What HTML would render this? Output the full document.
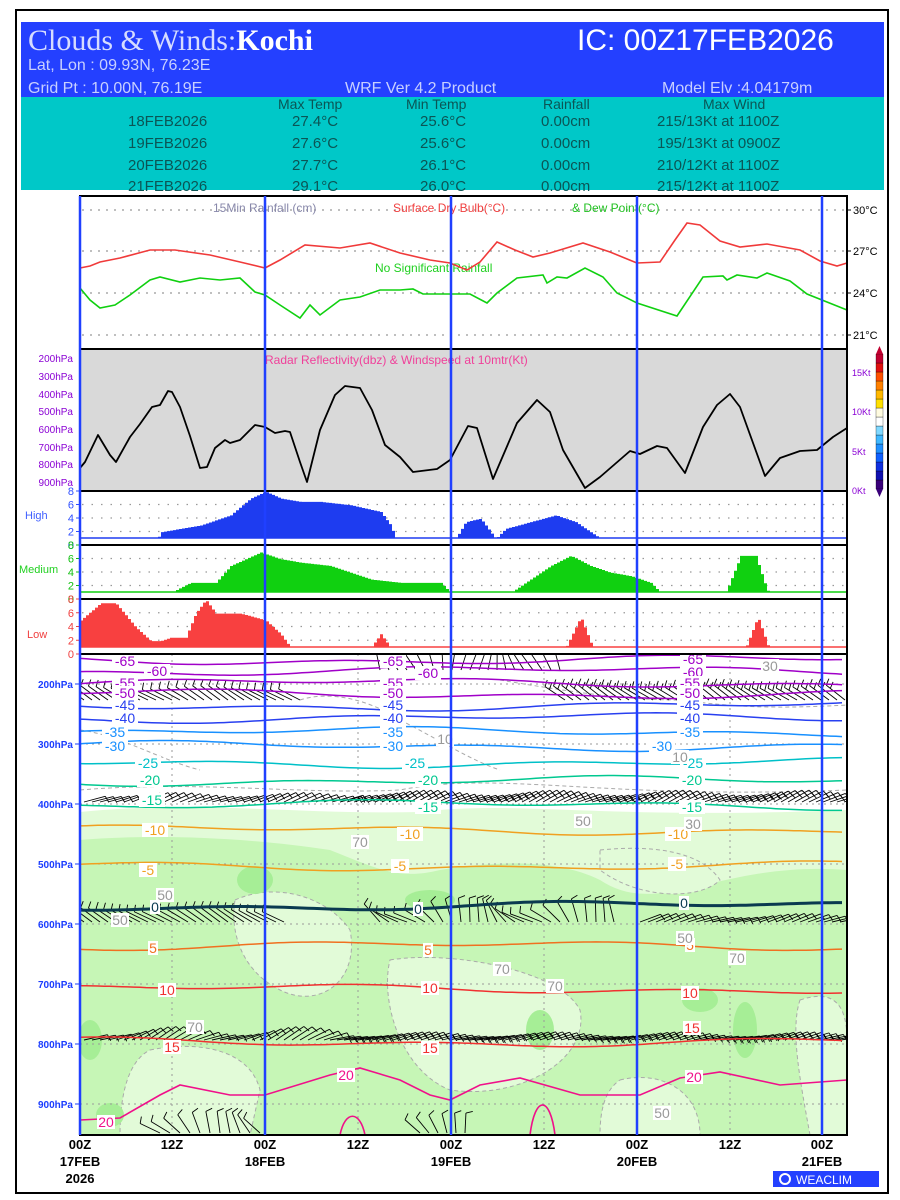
<!DOCTYPE html>
<html><head><meta charset="utf-8"><style>
body{margin:0;background:#fff;width:900px;height:1200px;overflow:hidden}
svg{display:block}
text{font-family:"Liberation Sans",sans-serif}
.pl{font-size:10px;fill:#1a3cff;text-anchor:end;font-weight:bold}
.rl{font-size:10px;fill:#8a00d4;text-anchor:end}
.tb{font-size:15px;fill:#0b5555}
.cl{font-size:14px;text-anchor:middle}
</style></head><body>
<svg id="s" width="900" height="1200" xmlns="http://www.w3.org/2000/svg">
<defs><clipPath id="mc"><rect x="80" y="654" width="767" height="481"/></clipPath></defs>
<rect x="16" y="10" width="872" height="1183" fill="#fff" stroke="#000" stroke-width="2"/>
<rect x="21" y="22" width="863" height="76" fill="#2440ff"/>
<rect x="21" y="97" width="863" height="93" fill="#00c8c8"/>
<text x="28" y="50" font-family="Liberation Serif" font-size="30" fill="#d6dcff" style="font-family:'Liberation Serif',serif">Clouds &amp; Winds:<tspan fill="#fff" font-weight="bold">Kochi</tspan></text>
<text x="577" y="50" font-size="30" fill="#fff">IC: 00Z17FEB2026</text>
<text x="28" y="70" font-size="16" fill="#c8d0ff">Lat, Lon : 09.93N, 76.23E</text>
<text x="28" y="93" font-size="16" fill="#c8d0ff">Grid Pt  : 10.00N, 76.19E</text>
<text x="345" y="93" font-size="16" fill="#c8d0ff">WRF Ver 4.2 Product</text>
<text x="662" y="93" font-size="16" fill="#c8d0ff">Model Elv :4.04179m</text>
<g class="tb" style="font-size:14px">
<text x="278" y="109">Max Temp</text><text x="406" y="109">Min Temp</text><text x="543" y="109">Rainfall</text><text x="703" y="109">Max Wind</text>
</g>
<g class="tb">
<text x="128" y="126">18FEB2026</text><text x="292" y="126">27.4°C</text><text x="420" y="126">25.6°C</text><text x="541" y="126">0.00cm</text><text x="657" y="126">215/13Kt at 1100Z</text>
<text x="128" y="148">19FEB2026</text><text x="292" y="148">27.6°C</text><text x="420" y="148">25.6°C</text><text x="541" y="148">0.00cm</text><text x="657" y="148">195/13Kt at 0900Z</text>
<text x="128" y="170">20FEB2026</text><text x="292" y="170">27.7°C</text><text x="420" y="170">26.1°C</text><text x="541" y="170">0.00cm</text><text x="657" y="170">210/12Kt at 1100Z</text>
<text x="128" y="191">21FEB2026</text><text x="292" y="191">29.1°C</text><text x="420" y="191">26.0°C</text><text x="541" y="191">0.00cm</text><text x="657" y="191">215/12Kt at 1100Z</text>
</g>
<g stroke="#999" stroke-dasharray="2,6" stroke-width="1.3">
<line x1="82" y1="210" x2="845" y2="210"/><line x1="82" y1="251" x2="845" y2="251"/><line x1="82" y1="293" x2="845" y2="293"/><line x1="82" y1="335" x2="845" y2="335"/>
</g>
<text x="213" y="212" font-size="12" fill="#8888aa">15Min Rainfall (cm)</text>
<text x="393" y="212" font-size="12" fill="#f04040">Surface Dry Bulb(°C)</text>
<text x="572" y="212" font-size="12" fill="#20c020">&amp; Dew Point(°C)</text>
<text x="375" y="272" font-size="12" fill="#20d020">No Significant Rainfall</text>
<g font-size="11" fill="#000"><text x="853" y="214">30°C</text><text x="853" y="255">27°C</text><text x="853" y="297">24°C</text><text x="853" y="339">21°C</text></g>
<g stroke="#000"><line x1="847" y1="210" x2="851" y2="210"/><line x1="847" y1="251" x2="851" y2="251"/><line x1="847" y1="293" x2="851" y2="293"/><line x1="847" y1="335" x2="851" y2="335"/></g>
<polyline fill="none" stroke="#f03a3a" stroke-width="1.6" points="80,268 90,266 100,262 120,258 150,250 175,250 210,255 240,262 265,268 280,260 305,245 340,248 370,243 400,253 430,260 450,263 467,270 480,262 497,242 515,250 533,257 550,253 583,243 610,252 637,263 660,262 675,240 687,223 700,225 720,241 740,247 767,244 800,250 820,261 837,266 847,263"/>
<polyline fill="none" stroke="#10d010" stroke-width="1.6" points="80,288 90,300 100,308 115,305 130,295 150,280 160,277 180,282 200,278 220,280 240,278 255,292 265,295 280,305 300,318 310,305 320,315 340,300 360,297 380,290 400,290 413,289 423,294 450,294 470,294 487,303 497,293 517,278 543,275 547,283 557,277 567,278 585,268 603,277 617,293 637,303 677,316 703,277 723,276 727,280 737,275 757,278 767,273 790,281 807,294 847,310"/>
<rect x="80" y="349" width="767" height="142" fill="#d9d9d9"/>
<text x="265" y="364" font-size="12" fill="#f0409a">Radar Reflectivity(dbz) &amp; Windspeed at 10mtr(Kt)</text>
<polyline fill="none" stroke="#000" stroke-width="1.8" stroke-linejoin="round" points="80,468 85,462 98,435 110,455 116,462 130,437 140,424 152,407 160,405 168,391 172,392 180,407 190,436 200,468 207,467 215,448 225,440 230,443 240,440 255,425 265,427 275,433 285,431 290,432 300,462 307,482 320,430 335,395 345,386 360,388 372,410 385,445 400,457 413,472 437,469 450,460 468,426 477,428 493,479 517,423 537,400 550,412 563,450 585,488 600,477 630,451 640,454 657,446 667,448 685,473 703,427 717,405 730,394 740,407 765,476 780,458 800,451 817,450 833,437 847,428"/>
<g class="rl"><text x="73" y="362">200hPa</text><text x="73" y="380">300hPa</text><text x="73" y="398">400hPa</text><text x="73" y="415">500hPa</text><text x="73" y="433">600hPa</text><text x="73" y="451">700hPa</text><text x="73" y="468">800hPa</text><text x="73" y="486">900hPa</text></g>
<g font-size="9" fill="#8a00d4"><text x="852" y="376">15Kt</text><text x="852" y="415">10Kt</text><text x="852" y="455">5Kt</text><text x="852" y="494">0Kt</text></g>
<g id="cbar"></g>
<g font-size="11"><text x="25" y="519" fill="#4060ff">High</text><text x="19" y="573" fill="#20d020">Medium</text><text x="27" y="638" fill="#f04040">Low</text></g>
<g id="clouds"></g>
<g id="main" clip-path="url(#mc)"></g>
<g class="pl"><text x="73" y="688">200hPa</text><text x="73" y="748">300hPa</text><text x="73" y="808">400hPa</text><text x="73" y="868">500hPa</text><text x="73" y="928">600hPa</text><text x="73" y="988">700hPa</text><text x="73" y="1048">800hPa</text><text x="73" y="1108">900hPa</text></g>
<g id="labels"></g>
<g id="frames"></g>
<g font-size="13" fill="#000" text-anchor="middle" font-weight="bold">
<text x="80" y="1149">00Z</text><text x="80" y="1166">17FEB</text><text x="80" y="1183">2026</text>
<text x="172" y="1149">12Z</text>
<text x="265" y="1149">00Z</text><text x="265" y="1166">18FEB</text>
<text x="358" y="1149">12Z</text>
<text x="451" y="1149">00Z</text><text x="451" y="1166">19FEB</text>
<text x="544" y="1149">12Z</text>
<text x="637" y="1149">00Z</text><text x="637" y="1166">20FEB</text>
<text x="730" y="1149">12Z</text>
<text x="822" y="1149">00Z</text><text x="822" y="1166">21FEB</text>
</g>
<rect x="773" y="1171" width="106" height="16" fill="#2440ff"/>
<circle cx="785" cy="1179" r="5" fill="none" stroke="#fff" stroke-width="2"/>
<text x="796" y="1184" font-size="12" fill="#fff">WEACLIM</text>
</svg>
<script>
const NS="http://www.w3.org/2000/svg";
function el(p,t,a){const e=document.createElementNS(NS,t);for(const k in a)e.setAttribute(k,a[k]);p.appendChild(e);return e;}
const cb=document.getElementById('cbar');
const cols=["#3a007a","#1010b0","#1030e0","#1060ff","#2090ff","#40b8ff","#80d8ff","#fff","#fffbe0","#ffe000","#ffb800","#ff8000","#ff5000","#e01010","#c00030"];
for(let i=0;i<cols.length;i++)el(cb,'rect',{x:876,y:489-(i+1)*9,width:7,height:9,fill:cols[i],stroke:"#000","stroke-width":0.3});
el(cb,'polygon',{points:"876,354 883,354 879.5,346",fill:"#c00030"});
el(cb,'polygon',{points:"876,489 883,489 879.5,497",fill:"#3a007a"});
const cg=document.getElementById('clouds');
function interp(pts,x){for(let i=0;i<pts.length-1;i++){if(x>=pts[i][0]&&x<=pts[i+1][0]){const t=(x-pts[i][0])/(pts[i+1][0]-pts[i][0]||1);return pts[i][1]+t*(pts[i+1][1]-pts[i][1]);}}return 0;}
function panel(top,bot,col,tickcol,data){
 const sc=(bot-top)/8;
 for(let v=2;v<=6;v+=2)el(cg,'line',{x1:82,y1:bot-v*sc,x2:845,y2:bot-v*sc,stroke:"#999","stroke-dasharray":"1.5,8","stroke-width":1.2});
 const base=bot-7;
 let d="M80,"+base;
 for(let x=80;x<847;x+=3){const v=interp(data,x);const y=v>0.05?Math.min(base,bot-v*sc-6):base;d+=" L"+x+","+y.toFixed(1)+" L"+(x+3)+","+y.toFixed(1);}
 d+=" L847,"+base+" Z";
 el(cg,'path',{d:d,fill:col});
 el(cg,'line',{x1:80,y1:base,x2:847,y2:base,stroke:col,"stroke-width":1.5});
 for(let v=0;v<=8;v+=2){const t=el(cg,'text',{x:74,y:bot-v*sc+4,"font-size":11,fill:tickcol,"text-anchor":"end"});t.textContent=v;el(cg,'line',{x1:76,y1:bot-v*sc,x2:80,y2:bot-v*sc,stroke:tickcol});}
 el(cg,'line',{x1:80,y1:top,x2:847,y2:top,stroke:"#000","stroke-width":2});
}
panel(491,545,"#1e3cf0","#3050ff",[[80,0],[157,0],[160,1],[200,2],[230,3.5],[250,6],[265,7],[280,6],[300,5.5],[320,5.5],[350,5],[380,4],[390,2],[395,0],[455,0],[465,2.5],[480,3],[490,1],[495,0],[505,1.5],[530,2.5],[555,3.5],[575,2.5],[595,0.5],[600,0],[847,0]]);
panel(545,599,"#10d010","#10c010",[[80,0],[170,0],[190,1.5],[215,1.5],[230,4],[260,6],[280,5],[300,4.5],[330,4],[350,3],[370,2],[400,1.5],[440,1.5],[450,0],[510,0],[530,2],[550,4],[570,5.5],[590,4],[610,3],[630,2.5],[650,1.5],[660,0],[725,0],[740,5.5],[755,5.5],[765,1],[768,0],[847,0]]);
panel(599,654,"#f84040","#f04040",[[80,4],[100,6.5],[115,6.5],[135,3],[150,1],[160,1],[170,1.5],[185,1.5],[195,5],[205,7],[215,5],[240,5],[265,4],[280,2],[290,0],[370,0],[380,2],[390,0],[565,0],[580,4.5],[592,0],[745,0],[757,4.5],[768,0],[847,0]]);
const m=document.getElementById('main');
el(m,'rect',{x:80,y:654,width:767,height:481,fill:"#fff"});
el(m,'path',{d:"M80,812 C200,800 300,815 420,812 C520,800 600,820 847,810 L847,1135 L80,1135 Z",fill:"#e2fbd8"});
el(m,'path',{d:"M80,840 C140,835 230,835 330,850 C380,870 400,880 440,870 C500,860 560,860 600,880 C660,920 720,860 847,870 L847,1135 L80,1135 Z",fill:"#c6f6b6"});
const lp=["M235,900 C280,880 330,900 350,930 C360,980 320,1010 280,990 C240,970 230,930 235,900Z","M390,960 C450,950 560,970 580,1010 C590,1060 520,1100 450,1090 C400,1070 380,1000 390,960Z","M600,850 C650,845 700,850 720,880 C700,900 640,900 600,870Z","M800,1000 C830,990 847,1000 847,1040 L847,1135 L810,1135 C800,1080 790,1030 800,1000Z","M620,1080 C660,1070 700,1090 700,1135 L600,1135 C600,1110 605,1090 620,1080Z","M150,1050 C200,1040 250,1050 260,1090 L250,1135 L120,1135 C120,1090 130,1060 150,1050Z"];
lp.forEach(p=>el(m,'path',{d:p,fill:"#e2fbd8",stroke:"#aaa","stroke-dasharray":"4,3"}));
[[255,880,18,14],[110,1115,14,12],[540,1030,14,20],[745,1030,12,28],[430,900,25,10],[90,1040,12,20],[700,1000,18,12]].forEach(e=>el(m,'ellipse',{cx:e[0],cy:e[1],rx:e[2],ry:e[3],fill:"#a6ee96"}));
["M300,700 C330,690 370,700 400,720 C440,740 470,760 500,770","M500,680 C560,690 620,700 680,700 C720,705 760,710 847,705","M80,790 C200,780 300,795 400,790 C500,770 600,800 847,790","M80,730 C120,735 160,760 200,770"].forEach(c=>el(m,'path',{d:c,fill:"none",stroke:"#aaa","stroke-dasharray":"4,3"}));
for(const x of [172,358,544,730])el(m,'line',{x1:x,y1:654,x2:x,y2:1135,stroke:"#999","stroke-dasharray":"2,4"});
for(let p=200;p<=900;p+=100){const y=684+(p-200)*0.6;el(m,'line',{x1:80,y1:y,x2:847,y2:y,stroke:"#999","stroke-dasharray":"2,4"});el(s=document.getElementById('frames'),'line',{x1:75,y1:y,x2:80,y2:y,stroke:"#1a3cff"});}
function barbRow(y0,x0,x1,step,len,ang,flags,amp){
 for(let x=x0;x<=x1;x+=step){
  const a=ang+Math.sin(x*0.05)*amp;const dx=Math.cos(a)*len,dy=Math.sin(a)*len;
  el(m,'line',{x1:x,y1:y0,x2:x+dx,y2:y0-dy,stroke:"#000","stroke-width":0.9});
  for(let f=0;f<flags;f++){const t=1-f*0.22;const bx=x+dx*t,by=y0-dy*t;el(m,'line',{x1:bx,y1:by,x2:bx+Math.cos(a-1.3)*7,y2:by-Math.sin(a-1.3)*7,stroke:"#000","stroke-width":0.9});}
 }}
barbRow(700,84,300,8,24,2.6,1,0.1);barbRow(700,565,845,8,24,2.55,2,0.08);barbRow(670,380,560,9,26,1.7,1,0.5);
barbRow(802,84,340,8,22,0.35,1,0.1);barbRow(802,340,845,7,24,0.4,2,0.12);
barbRow(922,84,290,8,24,2.6,1,0.1);barbRow(922,380,620,9,24,2.2,1,0.6);barbRow(922,640,845,8,22,0.3,1,0.1);
barbRow(1040,84,330,8,24,0.4,1,0.2);barbRow(1040,330,845,7,24,0.25,2,0.1);
barbRow(1133,160,265,10,22,2.2,1,0.5);barbRow(1133,420,470,9,20,2.0,1,0.5);
const C=[[-65,660,"#a000c8",1.5],[-60,671,"#a000c8",1.5],[-55,683,"#a000c8",1.5],[-50,694,"#a000c8",1.5],[-45,706,"#2840f0",1.5],[-40,718,"#2840f0",1.5],[-35,732,"#1890ff",1.5],[-30,746,"#1890ff",1.5],[-25,763,"#00c0c8",1.5],[-20,781,"#00c890",1.5],[-15,805,"#00c890",1.5],[-10,830,"#f0a020",1.5],[-5,866,"#f0a020",1.5],[0,906,"#0a3a50",3],[5,946,"#f07020",1.5],[10,989,"#f03030",1.5],[15,1042,"#f03030",1.5]];
C.forEach(c=>{let d="";for(let x=80;x<=847;x+=6){const y=c[1]+Math.sin(x*0.02+c[0])*2.5+Math.sin(x*0.007+c[0]*0.3)*3;d+=(x==80?"M":"L")+x+","+y.toFixed(1);}el(m,'path',{d:d,fill:"none",stroke:c[2],"stroke-width":c[3]});});
el(m,'polyline',{points:"80,1120 120,1118 160,1095 180,1085 230,1095 265,1095 330,1075 360,1068 400,1080 430,1095 450,1100 480,1085 520,1078 580,1095 640,1095 680,1078 720,1072 780,1085 847,1080",fill:"none",stroke:"#f0108a","stroke-width":1.6});
el(m,'path',{d:"M340,1135 C345,1110 360,1110 365,1135",fill:"none",stroke:"#f0108a","stroke-width":1.6});
el(m,'path',{d:"M530,1135 C535,1095 550,1095 555,1135",fill:"none",stroke:"#f0108a","stroke-width":1.6});
const fr=document.getElementById('frames');
el(fr,'rect',{x:80,y:196,width:767,height:939,fill:"none",stroke:"#000","stroke-width":2});
el(fr,'line',{x1:80,y1:349,x2:847,y2:349,stroke:"#000","stroke-width":2});
el(fr,'line',{x1:80,y1:654,x2:847,y2:654,stroke:"#000","stroke-width":2});
for(const x of [80,265,451,637,822])el(fr,'line',{x1:x,y1:196,x2:x,y2:1135,stroke:"#2040ff","stroke-width":2.5});
const L=document.getElementById('labels');
const labs=[["-65",125,666,"#a000c8"],["-65",393,666,"#a000c8"],["-65",693,664,"#a000c8"],["-60",157,676,"#a000c8"],["-60",428,678,"#a000c8"],["-60",693,677,"#a000c8"],["-55",125,688,"#a000c8"],["-55",393,688,"#a000c8"],["-55",690,688,"#a000c8"],["-50",125,698,"#a000c8"],["-50",393,698,"#a000c8"],["-50",690,698,"#a000c8"],["-45",125,710,"#2840f0"],["-45",393,710,"#2840f0"],["-45",690,710,"#2840f0"],["-40",125,723,"#2840f0"],["-40",393,723,"#2840f0"],["-40",690,723,"#2840f0"],["-35",115,737,"#1890ff"],["-35",393,737,"#1890ff"],["-35",690,737,"#1890ff"],["-30",115,751,"#1890ff"],["-30",393,751,"#1890ff"],["-30",662,751,"#1890ff"],["-25",148,768,"#00c0c8"],["-25",415,768,"#00c0c8"],["-25",693,768,"#00c0c8"],["-20",150,785,"#00c890"],["-20",428,785,"#00c890"],["-20",692,785,"#00c890"],["-15",152,805,"#00c890"],["-15",428,812,"#00c890"],["-15",692,812,"#00c890"],["-10",155,835,"#f0a020"],["-10",410,839,"#f0a020"],["-10",678,839,"#f0a020"],["-5",148,875,"#f0a020"],["-5",400,871,"#f0a020"],["-5",677,869,"#f0a020"],["0",155,912,"#0a3a50"],["0",418,914,"#0a3a50"],["0",684,908,"#0a3a50"],["5",153,953,"#f07020"],["5",428,955,"#f07020"],["5",690,950,"#f07020"],["10",167,995,"#f03030"],["10",430,993,"#f03030"],["10",690,998,"#f03030"],["15",172,1052,"#f03030"],["15",430,1053,"#f03030"],["15",692,1033,"#f03030"],["20",106,1127,"#f0108a"],["20",346,1080,"#f0108a"],["20",694,1082,"#f0108a"],
["50",165,900,"#999"],["50",120,925,"#999"],["70",195,1032,"#999"],["70",360,847,"#999"],["70",502,974,"#999"],["70",555,991,"#999"],["50",583,826,"#999"],["30",693,829,"#999"],["50",685,943,"#999"],["70",737,963,"#999"],["50",662,1118,"#999"],["30",770,671,"#999"],["10",445,744,"#999"],["10",680,762,"#999"]];
labs.forEach(l=>{const w=l[0].length*8+2;el(L,'rect',{x:l[1]-w/2,y:l[2]-12,width:w,height:14,fill:"#fff"});const t=el(L,'text',{x:l[1],y:l[2],class:"cl",fill:l[3]});t.textContent=l[0];});
</script>
</body></html>
